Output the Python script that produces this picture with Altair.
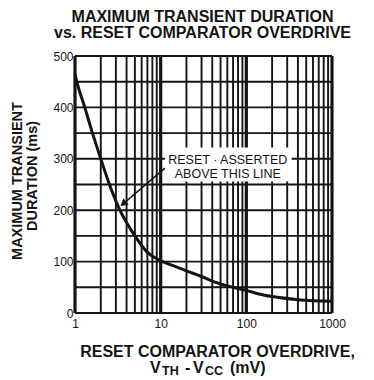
import altair as alt
import pandas as pd

# Curve data
overdrive_mv = [1, 1.05, 1.3, 1.6, 2, 2.5, 3.3, 5, 7, 10, 14, 20, 30, 45, 70, 100, 140, 200, 400, 1000]
duration_ms = [465, 450, 400, 350, 300, 252, 202, 150, 118, 102, 92, 82, 71, 59, 50, 44, 37, 32, 26, 23]

# Grid values
x_grid = [1, 2, 3, 4, 5, 6, 7, 8, 9, 10, 20, 30, 40, 50, 60, 70, 80, 90,
          100, 200, 300, 400, 500, 600, 700, 800, 900, 1000]
x_major = [1, 10, 100, 1000]
y_grid = [0, 50, 100, 150, 200, 250, 300, 350, 400, 450, 500]

title_lines = ["MAXIMUM TRANSIENT DURATION", "vs. RESET COMPARATOR OVERDRIVE"]
y_title_lines = ["MAXIMUM TRANSIENT", "DURATION (ms)"]
x_title_line1 = "RESET COMPARATOR OVERDRIVE,"
annot_lines = ["RESET · ASSERTED", "ABOVE THIS LINE"]

FONT = "Liberation Sans"
INK = "#141414"
W, H = 257, 257

xs = alt.Scale(type="log", domain=[1, 1000])
ys = alt.Scale(domain=[0, 500])

df_curve = pd.DataFrame({"x": overdrive_mv, "y": duration_ms})
df_vgrid = pd.DataFrame({"x": x_grid, "major": [v in x_major for v in x_grid]})
df_hgrid = pd.DataFrame({"y": y_grid})

axes = alt.Chart(pd.DataFrame({"xx": [1, 1000], "yy": [0, 500]})).mark_point(opacity=0).encode(
    x=alt.X("xx:Q", scale=xs, axis=alt.Axis(values=x_major, title=None, grid=False,
            domain=False, ticks=False, labelFont=FONT, labelFontSize=12,
            labelColor=INK, labelPadding=5, format="d", labelFlush=False)),
    y=alt.Y("yy:Q", scale=ys, axis=alt.Axis(values=y_grid, title=None, grid=False,
            domain=False, ticks=False, labelFont=FONT, labelFontSize=12,
            labelColor=INK, labelPadding=2)),
)

vgrid = alt.Chart(df_vgrid).mark_rule(color=INK).encode(
    x=alt.X("x:Q", scale=xs),
    strokeWidth=alt.condition("datum.major", alt.value(3.2), alt.value(1.9)),
)
hgrid = alt.Chart(df_hgrid).mark_rule(color=INK, strokeWidth=1.9).encode(
    y=alt.Y("y:Q", scale=ys),
)

# annotation white box (data coordinates)
box = alt.Chart(pd.DataFrame({"x1": [11.2], "x2": [338], "y1": [256], "y2": [322]})).mark_rect(
    color="white").encode(
    x=alt.X("x1:Q", scale=xs), x2="x2:Q",
    y=alt.Y("y1:Q", scale=ys), y2="y2:Q",
)

curve = alt.Chart(df_curve).mark_line(color=INK, strokeWidth=3, interpolate="monotone").encode(
    x=alt.X("x:Q", scale=xs),
    y=alt.Y("y:Q", scale=ys),
)

annot = alt.Chart(pd.DataFrame({"x": [60.7, 60.7], "y": [297, 271], "t": annot_lines})).mark_text(
    font=FONT, fontSize=12.5, color=INK, align="center", baseline="middle").encode(
    x=alt.X("x:Q", scale=xs), y=alt.Y("y:Q", scale=ys), text="t:N")

arrow_df = pd.DataFrame({"x": [11.2, 3.75], "y": [282, 214], "o": [0, 1]})
arrow_line = alt.Chart(arrow_df).mark_line(color=INK, strokeWidth=1.6).encode(
    x=alt.X("x:Q", scale=xs), y=alt.Y("y:Q", scale=ys), order="o:O")
arrow_head = alt.Chart(arrow_df.iloc[[1]]).mark_point(
    shape="triangle", filled=True, color=INK, size=70, angle=230, opacity=1).encode(
    x=alt.X("x:Q", scale=xs), y=alt.Y("y:Q", scale=ys))

def text_layer(t, x, y, size, weight="bold", angle=0, align="center", baseline="alphabetic"):
    kw = dict(font=FONT, fontSize=size, fontWeight=weight, color=INK, align=align,
              baseline=baseline, text=t)
    if angle:
        kw["angle"] = angle
    return alt.Chart(pd.DataFrame({"a": [0]})).mark_text(**kw).encode(
        x=alt.value(x), y=alt.value(y))

L, T = 75, 56
texts = [
    text_layer(title_lines[0], 202.5 - L, 21.5 - T, 16),
    text_layer(title_lines[1], 202.5 - L, 38 - T, 16),
    text_layer(y_title_lines[0], 18 - L, 181 - T, 14.5, angle=270, baseline="middle"),
    text_layer(y_title_lines[1], 33 - L, 176 - T, 14.5, angle=270, baseline="middle"),
    text_layer(x_title_line1, 217.5 - L, 357 - T, 16),
    text_layer("V", 150 - L, 373 - T, 16, align="left"),
    text_layer("TH", 162 - L, 375 - T, 12.5, align="left"),
    text_layer("-", 185 - L, 373 - T, 16, align="left"),
    text_layer("V", 193 - L, 373 - T, 16, align="left"),
    text_layer("CC", 205 - L, 375 - T, 12.5, align="left"),
    text_layer("(mV)", 230 - L, 373 - T, 16, align="left"),
]

chart = alt.layer(axes, vgrid, hgrid, box, curve, arrow_line, arrow_head, annot, *texts).properties(
    width=W, height=H,
    autosize=alt.AutoSizeParams(type="none"),
    padding={"left": L - 8, "top": T - 8, "right": 34, "bottom": 66},
).configure_view(stroke=None).configure(background="white")

chart.save("out.html", embed_options={"renderer": "svg", "actions": False})
